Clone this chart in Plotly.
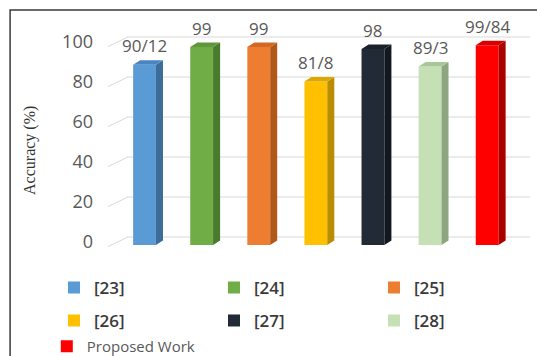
import plotly.graph_objects as go

# Accuracy comparison of the referenced works and the proposed work
categories = ["[23]", "[24]", "[25]", "[26]", "[27]", "[28]", "Proposed Work"]
accuracy = [90.12, 99, 99, 81.8, 98, 89.3, 99.84]
y_ticks = [0, 20, 40, 60, 80, 100]

front_colors = ["#5B9BD5", "#70AD47", "#ED7D31", "#FFC000", "#222A35", "#C5E0B4", "#FF0000"]
side_colors = ["#3C6C9A", "#4A7A2D", "#B0581C", "#BA8C00", "#12181F", "#8DA681", "#AA0000"]
top_colors = ["#4A85BF", "#5E983A", "#D26823", "#DDA600", "#1A212B", "#A8C799", "#D80000"]

# pseudo-3D geometry (data units)
BAR_W = 0.4
DEPTH_X = 0.123
DEPTH_Y = 2.25
WALL_X = 0.35
WALL_Y = 4.0
X_MIN, X_MAX = -0.64, 6.75
Y_MIN, Y_MAX = -2, 108

legend_of = ["legend", "legend", "legend", "legend2", "legend2", "legend2", "legend3"]


def label_text(v):
    return f"{v:g}".replace(".", "/")


fig = go.Figure()

# front faces of the columns (one trace per work for the legend)
for i, (name, v) in enumerate(zip(categories, accuracy)):
    fig.add_trace(go.Bar(
        x=[i], y=[v], width=BAR_W, name=name,
        marker=dict(color=front_colors[i], line=dict(width=0)),
        legend=legend_of[i], hoverinfo="name+y",
    ))

# side and top faces giving the columns depth
for i, v in enumerate(accuracy):
    xl, xr = i - BAR_W / 2, i + BAR_W / 2
    fig.add_trace(go.Scatter(
        x=[xr, xr + DEPTH_X, xr + DEPTH_X, xr, xr],
        y=[0, DEPTH_Y, v + DEPTH_Y, v, 0],
        fill="toself", fillcolor=side_colors[i], mode="lines",
        line=dict(width=0), showlegend=False, hoverinfo="skip",
    ))
    fig.add_trace(go.Scatter(
        x=[xl, xr, xr + DEPTH_X, xl + DEPTH_X, xl],
        y=[v, v, v + DEPTH_Y, v + DEPTH_Y, v],
        fill="toself", fillcolor=top_colors[i], mode="lines",
        line=dict(width=0), showlegend=False, hoverinfo="skip",
    ))

# value labels above the columns
for i, v in enumerate(accuracy):
    fig.add_annotation(
        x=i, y=v, text=label_text(v), showarrow=False, yshift=19,
        font=dict(family="Open Sans", size=17, color="#595959"),
    )

# back-wall gridlines with the diagonal leading edge
grid_style = dict(color="#D9D9D9", width=1)
for t in y_ticks:
    fig.add_shape(type="line", xref="x", yref="y", layer="below",
                  x0=X_MIN, y0=t - 0.8, x1=X_MIN + WALL_X, y1=t + WALL_Y, line=grid_style)
    fig.add_shape(type="line", xref="x", yref="y", layer="below",
                  x0=X_MIN + WALL_X, y0=t + WALL_Y, x1=X_MAX, y1=t + WALL_Y, line=grid_style)

# outer frame
fig.add_shape(type="rect", xref="paper", yref="paper",
              x0=-0.232, y0=-0.7, x1=1.2, y1=1.086,
              line=dict(color="#3A3A3A", width=1.5), layer="above")

# y-axis title
fig.add_annotation(
    x=-0.185, y=0.45, xref="paper", yref="paper", text="Accuracy (%)",
    textangle=-90, showarrow=False, xanchor="center", yanchor="middle",
    font=dict(family="Liberation Serif", size=16, color="#333333"),
)

legend_common = dict(
    orientation="h", xanchor="left", yanchor="middle",
    entrywidth=115, entrywidthmode="pixels", bgcolor="rgba(0,0,0,0)",
    itemclick=False, itemdoubleclick=False,
)
ref_font = dict(family="Open Sans", size=17, color="#3A3A3A", weight=600)

fig.update_layout(
    width=537, height=356,
    margin=dict(l=108, r=7, t=29, b=107, autoexpand=False),
    paper_bgcolor="white", plot_bgcolor="white",
    barmode="overlay",
    showlegend=True,
    legend=dict(x=-0.128, y=-0.177, font=ref_font, **legend_common),
    legend2=dict(x=-0.128, y=-0.327, font=ref_font, **legend_common),
    legend3=dict(x=-0.145, y=-0.443,
                 font=dict(family="Open Sans", size=15, color="#595959"), **legend_common),
    xaxis=dict(range=[X_MIN, X_MAX], showticklabels=False, showgrid=False,
               zeroline=False, showline=False, fixedrange=True),
    yaxis=dict(range=[Y_MIN, Y_MAX], tickvals=y_ticks, showgrid=False,
               zeroline=False, showline=False, ticks="",
               ticklabelstandoff=14, ticklabelshift=-3,
               tickfont=dict(family="Open Sans", size=18, color="#595959")),
)

fig.write_html("out.html")
